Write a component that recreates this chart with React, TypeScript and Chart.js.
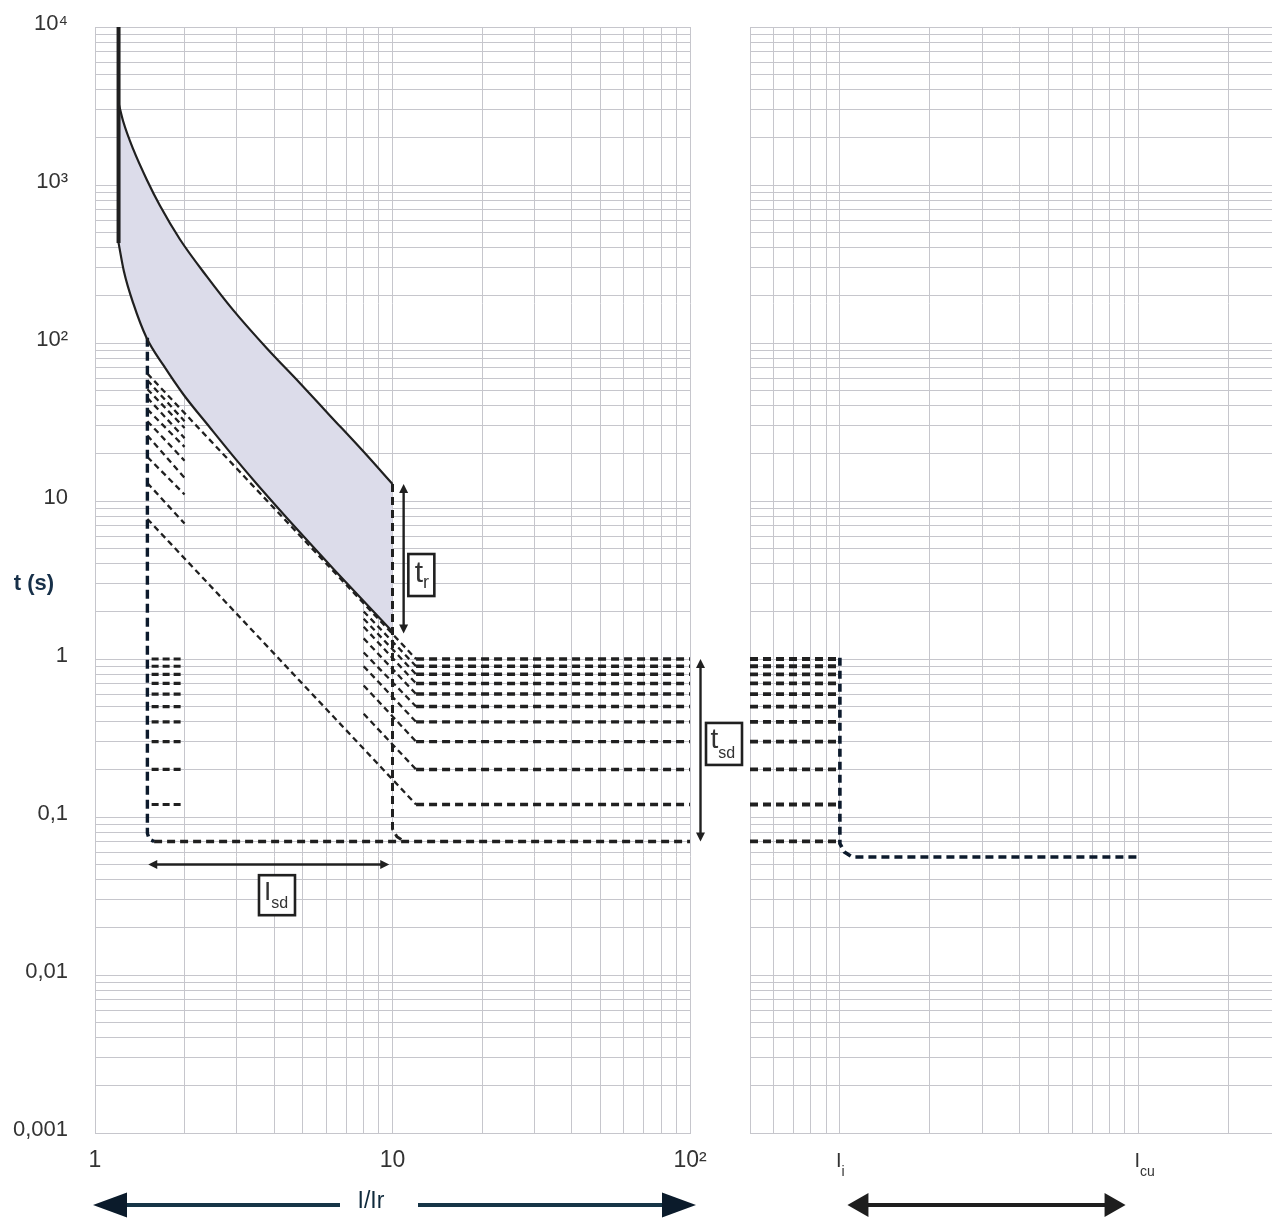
import React, { useEffect, useRef } from 'react';
import { Chart, registerables } from 'chart.js';

Chart.register(...registerables);

// ---------------- data ----------------
// long-time (thermal) band, upper and lower limit, I/Ir vs t(s)
const upperX = [1.2, 1.245, 1.345, 1.496, 1.654, 1.931, 2.379, 2.91, 3.786, 4.888, 6.166, 7.958, 10];
const upperY = [3304, 2512, 1679, 1072, 738, 452, 263, 162, 92.3, 55.6, 34.7, 20.7, 12.8];
const lowerX = [1.2, 1.25, 1.345, 1.49, 1.7, 1.98, 2.44, 3.0, 3.54, 4.89, 6.32, 10];
const lowerY = [430, 286, 178, 108, 72.1, 47.4, 29.0, 18.0, 12.5, 6.31, 3.73, 1.49];

// Ir pick-up bar
const ltPickupX = [1.2, 1.2];
const ltPickupY = [10000, 430];

// Isd pick-up verticals (min 1.5, max 10)
const isdLowX = [1.5, 1.5, 1.52, 1.58];
const isdLowY = [108, 0.079, 0.0725, 0.07];
const isdHighX = [10, 10, 10.35, 10.9];
const isdHighY = [12.8, 0.084, 0.075, 0.0705];

// short-time delay settings
const tsdLevels = [1.0, 0.9, 0.8, 0.7, 0.6, 0.5, 0.4, 0.3, 0.2, 0.12];
const tsdMin = 0.07;
const i2tLowX = [1.5, 2];
const i2tLowStartY = [64, 58, 51, 45, 38, 32, 26, 19, 13, 7.7];
const i2tLowEndY = [36, 32, 29, 25, 22, 18, 14, 11, 7.2, 4.3];
const i2tHighX = [8, 12];
const i2tHighStartY = [2.25, 2.0, 1.8, 1.6, 1.35, 1.1, 0.9, 0.68, 0.45, 0.27];
const i2tLongX = [1.5, 12];
const flatLowX = [1.55, 2];
const flatHighX = [12, 100];
const minFlatX = [1.58, 100];

// right panel (instantaneous)
const instFlatX = [5, 10];
const instPathX = [10, 10, 10.35, 11, 100];
const instPathY = [1.02, 0.068, 0.06, 0.0558, 0.0558];

// axes
const xTicksLeft = [1, 2, 3, 4, 5, 6, 7, 8, 9, 10, 20, 30, 40, 50, 60, 70, 80, 90, 100];
const xLabelAt = [1, 10, 100];
const xLabelText = ['1', '10', '10²'];
const xTicksRight = [5, 6, 7, 8, 9, 10, 20, 30, 40, 50, 60, 70, 80, 90, 100, 200];
const xRightLabelAt = [10, 100];
const xRightMain = ['I', 'I'];
const xRightSub = ['i', 'cu'];
const yDecades = [0.001, 0.01, 0.1, 1, 10, 100, 1000];
const yMinorSteps = [1, 2, 3, 4, 5, 6, 7, 8, 9];
const yLabelAt = [0.001, 0.01, 0.1, 1, 10, 100, 1000, 10000];
const yLabelText = ['0,001', '0,01', '0,1', '1', '10', '10²', '10³', '10⁴'];

// ---------------- styling ----------------
const FONT = "'Liberation Sans', Arial, Helvetica, sans-serif";
const GRID = '#c6c6cc';
const INK = '#202020';
const NAVY = '#0c1a2c';
const BAND = '#dcdcea';
const TEXT = '#333333';

type Pt = { x: number; y: number };
const pts = (xs: number[], ys: number[]): Pt[] => xs.map((x, i) => ({ x, y: ys[i] }));

const line = (data: Pt[], opts: any = {}) => ({
  data,
  borderColor: INK,
  borderWidth: 2,
  pointRadius: 0,
  pointHoverRadius: 0,
  fill: false,
  tension: 0,
  ...opts,
});

const THIN = { borderWidth: 2.3, borderDash: [6, 4] };
const THICK = { borderWidth: 3.4, borderDash: [8, 5] };

const labelFor = (v: number, at: number[], text: string[]) => {
  const i = at.findIndex((a) => Math.abs(Math.log10(a) - Math.log10(v)) < 1e-6);
  return i >= 0 ? text[i] : '';
};

const yTickValues = [...yDecades.flatMap((d) => yMinorSteps.map((m) => d * m)), 10000];

const zeroPad = (s: any) => {
  s.paddingTop = 0;
  s.paddingBottom = 0;
  s.paddingLeft = 0;
  s.paddingRight = 0;
};

function yAxis(showLabels: boolean, width: number) {
  return {
    type: 'logarithmic',
    position: 'left',
    min: 0.001,
    max: 10000,
    afterBuildTicks: (s: any) => {
      s.ticks = yTickValues.map((v) => ({ value: v }));
    },
    afterFit: (s: any) => {
      s.width = width;
      zeroPad(s);
    },
    grid: { color: GRID, lineWidth: 1, drawTicks: false },
    border: { color: GRID, width: 1 },
    ticks: {
      display: showLabels,
      autoSkip: false,
      padding: 27,
      labelOffset: -3,
      color: TEXT,
      font: { family: FONT, size: 22 },
      callback: (v: any) => labelFor(Number(v), yLabelAt, yLabelText),
    },
  };
}

function xAxis(min: number, max: number, ticks: number[], labels: (v: number) => string) {
  return {
    type: 'logarithmic',
    position: 'bottom',
    min,
    max,
    afterBuildTicks: (s: any) => {
      s.ticks = ticks.map((v) => ({ value: v }));
    },
    afterFit: (s: any) => {
      s.height = 85;
      zeroPad(s);
    },
    grid: { color: GRID, lineWidth: 1, drawTicks: false },
    border: { color: GRID, width: 1 },
    ticks: {
      autoSkip: false,
      maxRotation: 0,
      minRotation: 0,
      padding: 14,
      color: TEXT,
      font: { family: FONT, size: 23 },
      callback: (v: any) => labels(Number(v)),
    },
  };
}

// ---------------- drawing helpers ----------------
function arrowHead(ctx: CanvasRenderingContext2D, tx: number, ty: number, ux: number, uy: number, len: number, half: number) {
  const bx = tx - ux * len;
  const by = ty - uy * len;
  const px = -uy;
  const py = ux;
  ctx.beginPath();
  ctx.moveTo(tx, ty);
  ctx.lineTo(bx + px * half, by + py * half);
  ctx.lineTo(bx - px * half, by - py * half);
  ctx.closePath();
  ctx.fill();
}

function doubleArrow(ctx: CanvasRenderingContext2D, x1: number, y1: number, x2: number, y2: number, color: string, lw: number, len: number, half: number) {
  const L = Math.hypot(x2 - x1, y2 - y1);
  const ux = (x2 - x1) / L;
  const uy = (y2 - y1) / L;
  ctx.setLineDash([]);
  ctx.strokeStyle = color;
  ctx.fillStyle = color;
  ctx.lineWidth = lw;
  ctx.beginPath();
  ctx.moveTo(x1 + ux * len * 0.7, y1 + uy * len * 0.7);
  ctx.lineTo(x2 - ux * len * 0.7, y2 - uy * len * 0.7);
  ctx.stroke();
  arrowHead(ctx, x1, y1, -ux, -uy, len, half);
  arrowHead(ctx, x2, y2, ux, uy, len, half);
}

function subText(ctx: CanvasRenderingContext2D, main: string, sub: string, x: number, yMain: number, ySub: number, mainSize: number, subSize: number, color: string) {
  ctx.fillStyle = color;
  ctx.textAlign = 'left';
  ctx.textBaseline = 'alphabetic';
  ctx.font = `${mainSize}px ${FONT}`;
  ctx.fillText(main, x, yMain);
  const w = ctx.measureText(main).width;
  ctx.font = `${subSize}px ${FONT}`;
  ctx.fillText(sub, x + w, ySub);
}

function labelBox(ctx: CanvasRenderingContext2D, left: number, top: number, w: number, h: number, main: string, sub: string, mainSize: number, subSize: number, dx: number, mainDy: number, subDy: number) {
  ctx.setLineDash([]);
  ctx.fillStyle = '#ffffff';
  ctx.fillRect(left, top, w, h);
  ctx.strokeStyle = INK;
  ctx.lineWidth = 2.6;
  ctx.strokeRect(left, top, w, h);
  subText(ctx, main, sub, left + dx, top + mainDy, top + subDy, mainSize, subSize, TEXT);
}

const leftDecor = {
  id: 'leftDecor',
  afterDraw(chart: any) {
    const { ctx, chartArea: ca } = chart;
    const xs = chart.scales.x;
    const ys = chart.scales.y;
    ctx.save();

    // t_r
    const trx = xs.getPixelForValue(10.9);
    doubleArrow(ctx, trx, ys.getPixelForValue(12.8), trx, ys.getPixelForValue(1.45), INK, 2.4, 9, 4.5);
    labelBox(ctx, trx + 4.7, ys.getPixelForValue(3.4) - 21, 26, 42, 't', 'r', 30, 18, 6.3, 28, 34);

    // t_sd
    const tsx = ca.right + 10.5;
    doubleArrow(ctx, tsx, ys.getPixelForValue(1.0), tsx, ys.getPixelForValue(0.07), INK, 2.4, 9, 4.5);
    labelBox(ctx, ca.right + 16, ys.getPixelForValue(0.29) - 21, 36, 42, 't', 'sd', 28, 16, 4.5, 25, 35);

    // I_sd
    const isy = ys.getPixelForValue(0.05);
    doubleArrow(ctx, xs.getPixelForValue(1.51), isy, xs.getPixelForValue(9.75), isy, INK, 2.4, 9, 4.5);
    labelBox(ctx, xs.getPixelForValue(4.09) - 18, ys.getPixelForValue(0.032) - 20, 36, 40, 'I', 'sd', 26, 16, 5, 25, 33);

    // y title
    ctx.fillStyle = '#173049';
    ctx.font = `bold 22px ${FONT}`;
    ctx.textAlign = 'center';
    ctx.textBaseline = 'middle';
    ctx.fillText('t (s)', 34, ys.getPixelForValue(3));

    // bottom I/Ir arrow
    const by = ca.bottom + 72;
    ctx.setLineDash([]);
    ctx.strokeStyle = '#163547';
    ctx.lineWidth = 4;
    ctx.beginPath();
    ctx.moveTo(ca.left + 30, by);
    ctx.lineTo(ca.left + 245, by);
    ctx.moveTo(ca.left + 323, by);
    ctx.lineTo(ca.right - 26, by);
    ctx.stroke();
    ctx.fillStyle = '#0b1b2b';
    arrowHead(ctx, ca.left - 2, by, -1, 0, 34, 12.5);
    arrowHead(ctx, ca.right + 6, by, 1, 0, 34, 12.5);
    ctx.fillStyle = '#0f2a3c';
    ctx.font = `23px ${FONT}`;
    ctx.textAlign = 'center';
    ctx.textBaseline = 'alphabetic';
    ctx.fillText('I/Ir', ca.left + 276, by + 3);

    ctx.restore();
  },
};

const rightDecor = {
  id: 'rightDecor',
  afterDraw(chart: any) {
    const { ctx, chartArea: ca } = chart;
    const xs = chart.scales.x;
    ctx.save();
    xRightLabelAt.forEach((v, i) => {
      const px = xs.getPixelForValue(v) - 4;
      subText(ctx, xRightMain[i], xRightSub[i], px, ca.bottom + 34, ca.bottom + 43, 20, 14, TEXT);
    });
    const by = ca.bottom + 72;
    doubleArrow(ctx, xs.getPixelForValue(10.6), by, xs.getPixelForValue(90.5), by, '#1e1e1e', 4, 21, 12);
    ctx.restore();
  },
};

function leftDatasets() {
  const ds: any[] = [];
  ds.push(line(pts(upperX, upperY), { fill: '+1', backgroundColor: BAND, borderWidth: 2.2, cubicInterpolationMode: 'monotone' }));
  ds.push(line(pts(lowerX, lowerY), { borderWidth: 2.2, cubicInterpolationMode: 'monotone' }));
  ds.push(line(pts(ltPickupX, ltPickupY), { borderWidth: 4 }));
  ds.push(line(pts(isdLowX, isdLowY), { borderWidth: 3.4, borderColor: NAVY, borderDash: [9, 5] }));
  ds.push(line(pts(minFlatX, [tsdMin, tsdMin]), THICK));
  ds.push(line(pts(isdHighX, isdHighY), { borderWidth: 3, borderDash: [8, 5] }));
  tsdLevels.forEach((lvl, i) => {
    ds.push(line(pts(flatLowX, [lvl, lvl]), { borderWidth: 3.2, borderDash: [7, 4] }));
    if (i === 0 || i === tsdLevels.length - 1) {
      ds.push(line(pts(i2tLongX, [i2tLowStartY[i], lvl]), THIN));
    } else {
      ds.push(line(pts(i2tLowX, [i2tLowStartY[i], i2tLowEndY[i]]), THIN));
      ds.push(line(pts(i2tHighX, [i2tHighStartY[i], lvl]), THIN));
    }
    ds.push(line(pts(flatHighX, [lvl, lvl]), THICK));
  });
  return ds;
}

function rightDatasets() {
  const ds: any[] = [];
  ds.push(line(pts(instPathX, instPathY), { borderWidth: 3.6, borderColor: NAVY, borderDash: [8, 5] }));
  [...tsdLevels, tsdMin].forEach((lvl) => {
    ds.push(line(pts(instFlatX, [lvl, lvl]), { borderWidth: 3.8, borderDash: [8, 5] }));
  });
  return ds;
}

const baseOptions = {
  animation: false,
  responsive: false,
  maintainAspectRatio: false,
  events: [],
  plugins: {
    legend: { display: false },
    tooltip: { enabled: false },
    filler: { drawTime: 'beforeDatasetsDraw' },
  },
};

const LEFT_W = 745;
const RIGHT_W = 1272 - LEFT_W;

export default function App() {
  const leftRef = useRef<HTMLCanvasElement>(null);
  const rightRef = useRef<HTMLCanvasElement>(null);

  useEffect(() => {
    document.body.style.margin = '0';
    const left = new Chart(leftRef.current as HTMLCanvasElement, {
      type: 'line',
      data: { datasets: leftDatasets() },
      options: {
        ...baseOptions,
        layout: { padding: { top: 27, right: LEFT_W - 690, left: 0, bottom: 0 } },
        scales: {
          x: xAxis(1, 100, xTicksLeft, (v) => labelFor(v, xLabelAt, xLabelText)),
          y: yAxis(true, 95),
        },
      } as any,
      plugins: [leftDecor],
    });
    const right = new Chart(rightRef.current as HTMLCanvasElement, {
      type: 'line',
      data: { datasets: rightDatasets() },
      options: {
        ...baseOptions,
        layout: { padding: { top: 27, right: 0, left: 0, bottom: 0 } },
        scales: {
          x: xAxis(5, 280, xTicksRight, () => ''),
          y: yAxis(false, 750 - LEFT_W),
        },
      } as any,
      plugins: [rightDecor],
    });
    return () => {
      left.destroy();
      right.destroy();
    };
  }, []);

  return (
    <div style={{ position: 'absolute', left: 0, top: 0, width: 1272, height: 1218, background: '#ffffff', overflow: 'hidden' }}>
      <canvas ref={leftRef} width={LEFT_W} height={1218} style={{ position: 'absolute', left: 0, top: 0, width: LEFT_W, height: 1218 }} />
      <canvas ref={rightRef} width={RIGHT_W} height={1218} style={{ position: 'absolute', left: LEFT_W, top: 0, width: RIGHT_W, height: 1218 }} />
    </div>
  );
}
